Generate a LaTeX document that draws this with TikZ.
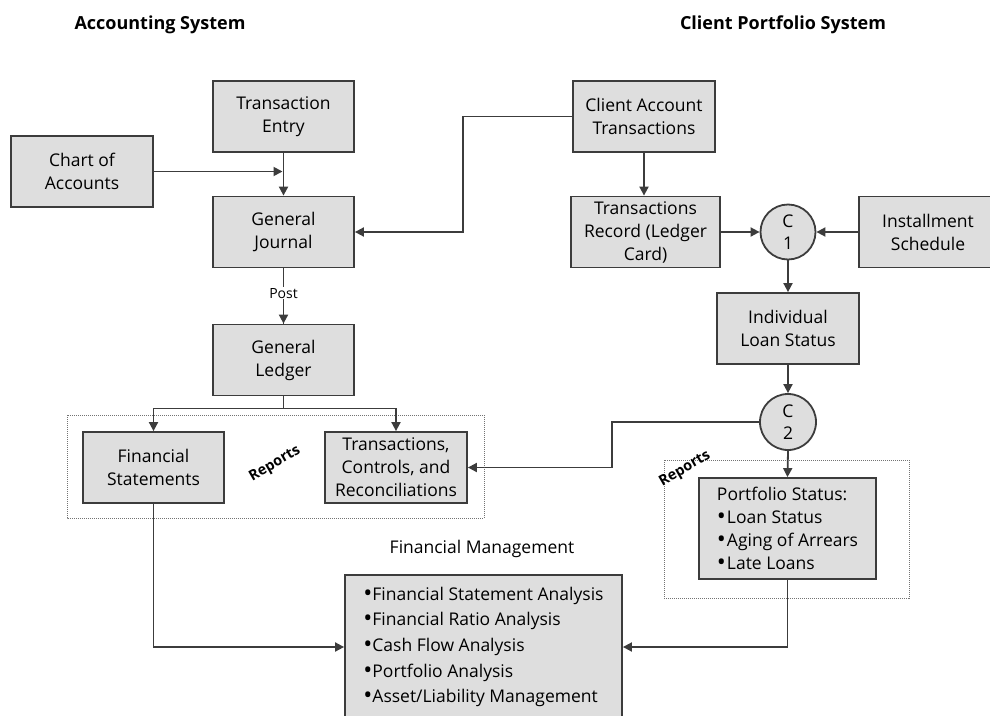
\documentclass[tikz,border=0pt]{standalone}
\usepackage{fontspec}
\setmainfont{Open Sans}
\usepackage{tikz}
\usetikzlibrary{arrows.meta}
\definecolor{boxfill}{HTML}{DEDEDE}
\definecolor{boxline}{HTML}{3C3C3C}
\newcommand{\bul}{\raisebox{-1pt}{\fontsize{24}{0}\selectfont•}}
\tikzstyle{box}=[rectangle,draw=boxline,fill=boxfill,line width=1.8pt,minimum width=141pt,minimum height=71pt,inner sep=2pt,align=center,font=\fontsize{17.5}{23}\selectfont]
\tikzstyle{cnode}=[circle,draw=boxline,fill=boxfill,line width=1.8pt,minimum size=55pt,inner sep=0pt,align=center,font=\fontsize{17.5}{22}\selectfont]
\tikzstyle{arr}=[draw=boxline,line width=1.8pt,-{Triangle[length=9pt,width=9pt]}]
\tikzstyle{ln}=[draw=boxline,line width=1.8pt]
\tikzstyle{title}=[font=\bfseries\fontsize{18}{21}\selectfont]
\tikzstyle{rep}=[font=\bfseries\fontsize{14.5}{16}\selectfont,rotate=30,inner sep=0pt]
\tikzstyle{frame}=[draw=black!55,densely dotted,line width=1pt]

\begin{document}
\begin{tikzpicture}[x=1pt,y=-1pt]
    \useasboundingbox (0,0) rectangle (990,715);

    \node[title] (ACC) at (160,25) {Accounting System};
    \node[title] (CPS) at (783,25) {Client Portfolio System};

    % accounting side
    \node[box] (TE) at (283.5,116.5) {Transaction\\Entry};
    \node[box,minimum width=142pt] (CA) at (82,171.5) {Chart of\\Accounts};
    \node[box] (GJ) at (283.5,232) {General\\Journal};
    \node[box] (GL) at (283.5,360) {General\\Ledger};

    \draw[frame] (67,415) rectangle (484,518);
    \node[box] (FS) at (153.5,467.5) {Financial\\Statements};
    \node[box,minimum width=142pt] (TC) at (396,467.5) {Transactions,\\Controls, and\\Reconciliations};
    \node[rep] (R1) at (275,464) {Reports};

    % client portfolio side
    \node[box,minimum width=142pt] (CT) at (644,116.5) {Client Account\\Transactions};
    \node[box,minimum width=149pt] (TR) at (645.5,232) {Transactions\\Record (Ledger\\Card)};
    \node[cnode] (C1) at (788,232) {C\\1};
    \node[box,minimum width=138pt] (IS) at (928,232) {Installment\\Schedule};
    \node[box,minimum width=142pt] (LS) at (788,328.5) {Individual\\Loan Status};
    \node[cnode,minimum size=56pt] (C2) at (788,422) {C\\2};

    \draw[frame] (664,460) rectangle (909,598);
    \node[rep] (R2) at (685,469) {Reports};
    \node[box,minimum width=177pt,minimum height=101pt,align=left] (PS) at (787.5,528.5)
        {Portfolio Status:\\\bul\kern1pt Loan Status\\\bul\kern1pt Aging of Arrears\\\bul\kern1pt Late Loans};

    % financial management
    \node[font=\fontsize{17.5}{20}\selectfont] (FML) at (482,549) {Financial Management};
    \node[box,minimum width=277pt,minimum height=144pt,align=left,font=\fontsize{17.5}{25.7}\selectfont] (FM) at (483.5,647)
        {\bul Financial Statement Analysis\\\bul Financial Ratio Analysis\\\bul Cash Flow Analysis\\\bul Portfolio Analysis\\\bul Asset/Liability Management};

    % connectors
    \draw[arr] (TE.south) -- (GJ.north);
    \draw[arr] (CA.east) -- ([xshift=-1pt]CA.east -| TE.south);
    \draw[arr] (CT.west) -- ++(-109,0) |- (GJ.east);
    \draw[ln] (GJ.south) -- (GL.north) node[pos=0.45,fill=white,inner sep=1pt,font=\fontsize{14}{15}\selectfont] (PO) {Post};
    \draw[arr] (GJ.south) ++(0,50) -- (GL.north);
    \draw[ln] (GL.south) -- ++(0,12) coordinate (split);
    \draw[arr] (split) -| (FS.north);
    \draw[arr] (split) -| (TC.north);
    \draw[arr] (CT.south) -- (CT.south |- TR.north);
    \draw[arr] (TR.east) -- (C1.west);
    \draw[arr] (IS.west) -- (C1.east);
    \draw[arr] (C1.south) -- (LS.north);
    \draw[arr] (LS.south) -- (C2.north);
    \draw[arr] (C2.west) -- ++(-147,0) |- (TC.east);
    \draw[arr] (C2.south) -- (PS.north);
    \draw[arr] (FS.south) |- (FM.west);
    \draw[arr] (PS.south) |- (FM.east);
\end{tikzpicture}
\end{document}
